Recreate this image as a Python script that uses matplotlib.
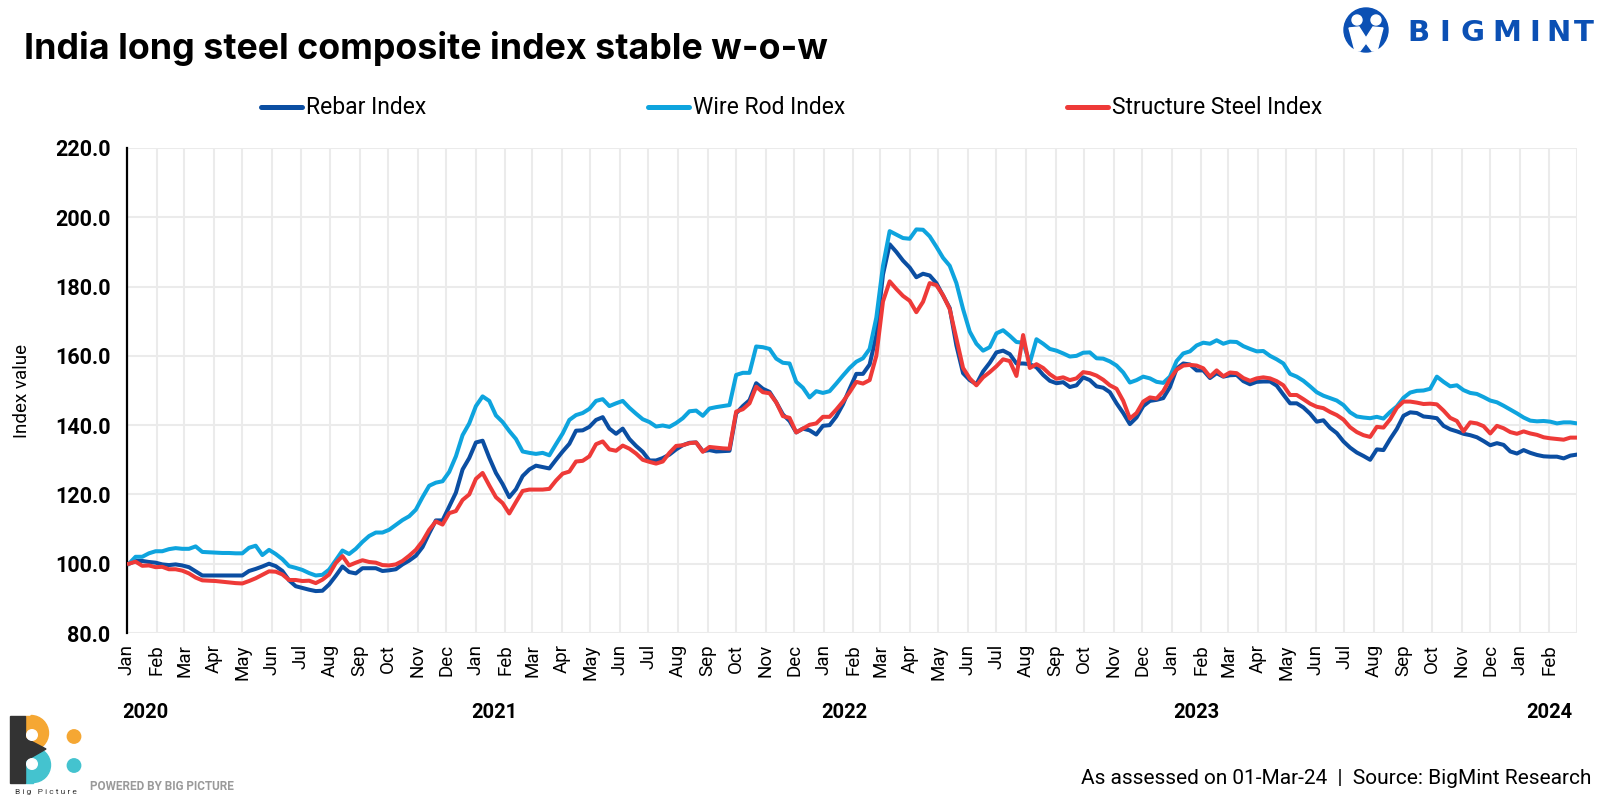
import pandas as pd
import matplotlib
matplotlib.use("Agg")
import matplotlib.pyplot as plt
import matplotlib.dates as mdates
import matplotlib.transforms as mtrans
from matplotlib.patches import Circle, Wedge, Rectangle, Polygon

plt.rcParams['font.family'] = ['Roboto', 'DejaVu Sans']

# weekly (Friday) assessments, Jan 2020 - 01 Mar 2024
dates = pd.date_range("2020-01-03", "2024-03-01", freq="W-FRI")

rebar_2020 = [100.0, 100.8, 100.8, 100.5, 100.3, 99.8, 99.6, 99.8, 99.5, 99.0, 97.8, 96.6, 96.6,
              96.6, 96.6, 96.6, 96.6, 96.6, 97.9, 98.5, 99.2, 100.0, 99.3, 97.9, 95.2, 93.5,
              93.0, 92.5, 92.1, 92.2, 94.0, 96.5, 99.2, 97.6, 97.2, 98.7, 98.7, 98.7, 97.9,
              98.1, 98.4, 99.8, 100.9, 102.3, 104.8, 108.8, 112.5, 112.5, 116.5, 120.5, 127.2, 130.5]
rebar_2021 = [135.0, 135.5, 130.6, 126.2, 123.0, 119.2, 121.5, 125.3, 127.2, 128.3, 127.9, 127.5,
              130.0, 132.4, 134.6, 138.4, 138.5, 139.5, 141.5, 142.3, 139.0, 137.5, 139.0, 136.0,
              134.0, 132.3, 129.8, 129.8, 130.5, 131.5, 133.0, 134.2, 134.9, 135.0, 132.5, 132.8,
              132.4, 132.5, 132.6, 143.4, 145.5, 147.2, 152.1, 150.5, 149.6, 146.6, 143.1, 141.2,
              137.9, 139.0, 138.5, 137.3, 139.8]
rebar_2022 = [140.0, 142.5, 146.0, 150.5, 154.8, 154.8, 157.5, 166.0, 183.5, 192.2, 190.0, 187.5,
              185.5, 182.7, 183.7, 183.2, 181.0, 177.4, 173.8, 163.0, 155.0, 153.0, 151.8, 155.5,
              158.0, 161.0, 161.5, 160.5, 157.8, 157.8, 157.6, 156.7, 154.5, 152.8, 152.1, 152.4,
              151.0, 151.5, 153.8, 153.0, 151.2, 150.8, 149.5, 146.3, 143.5, 140.3, 142.2, 145.5,
              147.0, 147.3, 147.8, 151.0]
rebar_2023 = [156.3, 157.8, 157.5, 155.8, 155.8, 153.6, 155.0, 154.0, 154.4, 154.5, 152.7, 151.8,
              152.5, 152.6, 152.6, 151.4, 148.8, 146.3, 146.3, 145.1, 143.3, 141.0, 141.4, 139.2,
              137.7, 135.3, 133.5, 132.1, 131.1, 130.0, 133.0, 132.8, 136.0, 138.9, 142.7, 143.7,
              143.5, 142.5, 142.3, 142.0, 139.8, 138.8, 138.2, 137.5, 137.1, 136.5, 135.4, 134.2,
              134.8, 134.3, 132.4, 131.8]
rebar_2024 = [132.8, 132.0, 131.4, 131.0, 130.9, 130.9, 130.4, 131.2, 131.5]

wire_2020 = [100.0, 102.0, 102.0, 103.0, 103.6, 103.6, 104.2, 104.5, 104.3, 104.3, 105.0, 103.4,
             103.3, 103.2, 103.1, 103.1, 103.0, 103.0, 104.6, 105.2, 102.5, 104.0, 102.8, 101.3,
             99.3, 98.8, 98.2, 97.3, 96.6, 96.8, 98.3, 101.0, 103.8, 102.8, 104.3, 106.3, 108.0,
             109.0, 109.0, 109.8, 111.2, 112.6, 113.7, 115.6, 119.2, 122.5, 123.4, 123.8, 126.5,
             131.0, 137.1, 140.5]
wire_2021 = [145.5, 148.3, 147.0, 142.8, 140.9, 138.3, 136.0, 132.4, 132.0, 131.7, 132.0, 131.3,
             134.5, 137.6, 141.5, 142.9, 143.5, 144.7, 147.0, 147.5, 145.5, 146.3, 147.0, 145.0,
             143.3, 141.7, 140.9, 139.6, 139.9, 139.5, 140.6, 142.0, 144.0, 144.2, 142.7, 144.8,
             145.2, 145.5, 145.8, 154.5, 155.1, 155.1, 162.7, 162.5, 162.0, 159.2, 158.0, 157.8,
             152.5, 150.8, 148.0, 149.8, 149.3]
wire_2022 = [149.8, 152.0, 154.3, 156.5, 158.3, 159.3, 162.0, 171.0, 186.0, 196.0, 195.0, 194.0,
             193.8, 196.5, 196.4, 194.5, 191.5, 188.3, 186.0, 181.0, 173.5, 167.0, 163.5, 161.5,
             162.5, 166.5, 167.4, 165.8, 164.0, 163.8, 158.0, 164.8, 163.5, 162.0, 161.5, 160.7,
             159.8, 160.0, 160.9, 161.0, 159.3, 159.2, 158.4, 157.2, 155.2, 152.3, 153.0, 154.0,
             153.5, 152.5, 152.2, 154.0]
wire_2023 = [158.5, 160.7, 161.3, 163.0, 163.8, 163.5, 164.5, 163.5, 164.1, 164.0, 162.8, 162.0,
             161.3, 161.4, 160.0, 159.0, 157.8, 154.8, 154.0, 152.8, 151.2, 149.5, 148.5, 147.8,
             147.1, 145.8, 143.7, 142.5, 142.2, 142.0, 142.4, 141.9, 143.8, 145.4, 147.9, 149.4,
             149.9, 150.0, 150.5, 154.0, 152.5, 151.2, 151.5, 150.1, 149.3, 149.0, 148.1, 147.1,
             146.6, 145.6, 144.5, 143.4]
wire_2024 = [142.2, 141.3, 141.1, 141.2, 141.0, 140.5, 140.8, 140.8, 140.5]

struct_2020 = [100.0, 100.6, 99.4, 99.5, 99.0, 99.1, 98.4, 98.4, 98.0, 97.2, 96.0, 95.2, 95.1,
               95.0, 94.8, 94.6, 94.4, 94.3, 95.0, 95.8, 96.8, 97.8, 97.7, 96.9, 95.3, 95.3,
               95.0, 95.1, 94.4, 95.4, 96.9, 100.2, 102.2, 99.5, 100.3, 101.0, 100.5, 100.3,
               99.6, 99.5, 99.8, 100.8, 102.3, 104.0, 106.5, 109.8, 112.2, 111.3, 114.6, 115.2,
               118.4, 120.0]
struct_2021 = [124.5, 126.2, 122.6, 119.2, 117.5, 114.5, 117.8, 121.0, 121.4, 121.4, 121.4, 121.6,
               124.0, 126.0, 126.6, 129.5, 129.7, 131.0, 134.5, 135.3, 133.0, 132.6, 134.1, 133.2,
               131.8, 130.0, 129.4, 128.9, 129.5, 132.0, 134.0, 134.2, 134.8, 135.0, 132.3, 133.7,
               133.5, 133.3, 133.2, 143.9, 144.6, 146.3, 151.1, 149.5, 149.2, 146.6, 142.6, 142.1,
               137.9, 139.0, 140.1, 140.5, 142.4]
struct_2022 = [142.4, 144.5, 146.8, 149.5, 152.5, 152.0, 153.0, 160.0, 175.7, 181.5, 179.3, 177.3,
               175.9, 172.6, 175.6, 181.0, 180.4, 177.5, 173.5, 165.0, 156.5, 153.5, 151.5, 153.8,
               155.3, 157.0, 159.0, 158.5, 154.2, 166.0, 156.5, 157.6, 156.5, 154.7, 153.4, 153.8,
               153.0, 153.5, 155.3, 155.0, 154.3, 153.1, 151.5, 150.5, 147.0, 141.9, 143.5, 146.8,
               148.0, 147.7, 149.8, 153.3]
struct_2023 = [156.0, 157.2, 157.4, 157.2, 156.4, 154.0, 155.8, 154.1, 155.2, 155.0, 153.6, 152.8,
               153.5, 153.8, 153.5, 152.7, 151.5, 148.7, 148.7, 147.5, 146.2, 145.3, 144.9, 143.8,
               142.9, 141.6, 139.4, 138.0, 137.1, 136.6, 139.5, 139.3, 141.7, 145.0, 146.8, 146.8,
               146.5, 146.1, 146.2, 146.0, 144.2, 142.1, 141.2, 138.2, 140.8, 140.5, 139.7, 137.6,
               139.8, 139.1, 138.0, 137.5]
struct_2024 = [138.2, 137.6, 137.2, 136.5, 136.2, 136.0, 135.8, 136.4, 136.4]

rebar = rebar_2020 + rebar_2021 + rebar_2022 + rebar_2023 + rebar_2024
wire_rod = wire_2020 + wire_2021 + wire_2022 + wire_2023 + wire_2024
structure = struct_2020 + struct_2021 + struct_2022 + struct_2023 + struct_2024

series_names = ["Rebar Index", "Wire Rod Index", "Structure Steel Index"]
series_colors = ["#0b4ea2", "#0ea4de", "#ee3a38"]
years = [2020, 2021, 2022, 2023, 2024]
year_label_dates = ["2020-01-20", "2021-01-20", "2022-01-22", "2023-01-27", "2024-02-01"]

W, H = 1599, 798
fig = plt.figure(figsize=(W / 100, H / 100), dpi=100)

# main plot area (pixel box converted to figure fractions)
left, right, top, bottom = 127, 1577, 148, 633
ax = fig.add_axes([left / W, 1 - bottom / H, (right - left) / W, (bottom - top) / H])

for vals, name, col in zip([rebar, wire_rod, structure], series_names, series_colors):
    ax.plot(dates, vals, color=col, lw=2.9, label=name, solid_joinstyle="round", zorder=3)

ax.set_xlim(pd.Timestamp("2020-01-01"), pd.Timestamp("2024-03-01"))
ax.set_ylim(80, 220)
ax.set_yticks(range(80, 221, 20))
ax.set_yticklabels([f"{v:.1f}" for v in range(80, 221, 20)], fontweight="bold", fontsize=15.5)

month_ticks = pd.date_range("2020-01-01", "2024-02-01", freq="MS")
ax.set_xticks(month_ticks)
ax.set_xticklabels([d.strftime("%b") for d in month_ticks], rotation=90, fontsize=13.5,
                   va="top", ha="center")
ax.xaxis.set_minor_locator(mdates.MonthLocator())
ax.tick_params(axis="both", which="both", length=0)
ax.tick_params(axis="x", pad=8)
ax.tick_params(axis="y", pad=12)

ax.grid(True, which="both", color="#ebebeb", lw=1.5, zorder=0)
ax.set_axisbelow(True)
for s in ["top", "right", "bottom"]:
    ax.spines[s].set_visible(False)
ax.spines["left"].set_color("black")
ax.spines["left"].set_linewidth(1.6)

ax.set_ylabel("Index value", fontsize=13.5)
ax.yaxis.set_label_coords(-0.066, 0.5)

trans = mtrans.blended_transform_factory(ax.transData, ax.transAxes)
for yr, d in zip(years, year_label_dates):
    ax.text(pd.Timestamp(d), -0.163, str(yr), transform=trans, ha="center",
            va="center", fontsize=14.5, fontweight="bold")

# overlay in pixel coordinates for title, legend, logos, footer
ov = fig.add_axes([0, 0, 1, 1])
ov.set_xlim(0, W)
ov.set_ylim(H, 0)
ov.axis("off")
ov.patch.set_alpha(0)

ov.text(24, 49, "India long steel composite index stable w-o-w", fontsize=25.8,
        fontweight="bold", ha="left", va="center", family=["Inter", "DejaVu Sans"])

leg_x = [261, 648, 1067]
for x0, name, col in zip(leg_x, series_names, series_colors):
    ov.plot([x0, x0 + 41], [107, 107], color=col, lw=3.6, solid_capstyle="round")
    ov.text(x0 + 45, 107, name, fontsize=16.5, ha="left", va="center")

ov.text(1591, 778, "As assessed on 01-Mar-24  |  Source: BigMint Research", fontsize=15,
        ha="right", va="center")

# BigMint logo
blue = "#0b50b4"
ov.add_patch(Circle((1366, 30), 22, color=blue))
ov.add_patch(Circle((1357, 20), 5, color="white"))
ov.add_patch(Circle((1376, 20), 5, color="white"))
ov.add_patch(Polygon([(1349, 28), (1359, 27), (1366, 38), (1373, 27), (1383, 28), (1377, 51),
                      (1372, 51), (1366, 43), (1360, 51), (1355, 51)], color="white"))
for ch, cx in zip("BIGMINT", [1418.7, 1445, 1472, 1506.5, 1535, 1558.5, 1583.5]):
    ov.text(cx, 33, ch, fontsize=21, fontweight="bold", color=blue, ha="center", va="center",
            family="DejaVu Sans")

# Big Picture logo
orange, teal, dark = "#f5a733", "#44c3cf", "#333333"
ov.add_patch(Rectangle((25, 715.5), 6, 35, color=orange))
ov.add_patch(Wedge((31, 733), 17.5, -90, 90, color=orange))
ov.add_patch(Rectangle((25, 747.5), 8, 35, color=teal))
ov.add_patch(Wedge((33, 765), 17.5, -90, 90, color=teal))
ov.add_patch(Rectangle((10, 715.5), 15, 67, color=dark))
ov.add_patch(Polygon([(25, 738), (46, 749), (25, 761)], color=dark))
ov.add_patch(Circle((32, 735), 5.3, color="white"))
ov.add_patch(Circle((32, 764), 5.3, color="white"))
ov.add_patch(Circle((74, 736.5), 6.7, color=orange))
ov.add_patch(Circle((74, 765.5), 6.7, color=teal))
ov.text(46, 792, "B i g   P i c t u r e", fontsize=6, ha="center", va="center", color=dark)
ov.text(90, 786, "POWERED BY BIG PICTURE", fontsize=8.5, fontweight="bold", color="#9a9a9a",
        ha="left", va="center")

fig.savefig("out.png", dpi=100)
